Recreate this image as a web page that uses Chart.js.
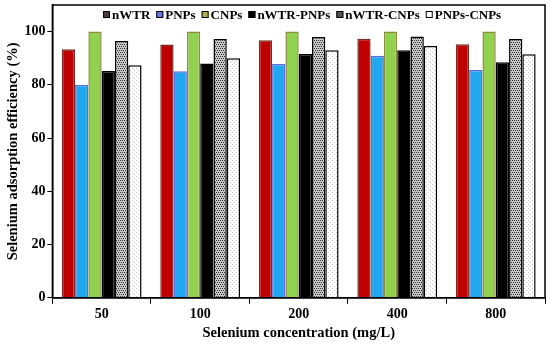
<!DOCTYPE html>
<html>
<head>
<meta charset="utf-8">
<script src="https://cdn.jsdelivr.net/npm/chart.js@4.4.1/dist/chart.umd.min.js"></script>
<style>
  html, body { margin: 0; padding: 0; background: #fff; }
  #wrap { width: 550px; height: 345px; }
</style>
</head>
<body>
<div id="wrap"><canvas id="chart" width="550" height="345"></canvas></div>
<script>
const concentrations = ['50', '100', '200', '400', '800'];
const seriesNames = ['nWTR', 'PNPs', 'CNPs', 'nWTR-PNPs', 'nWTR-CNPs', 'PNPs-CNPs'];
const nWTR = [93.4, 95.2, 96.8, 97.3, 95.3];
const PNPs = [80.0, 85.1, 87.8, 90.9, 85.6];
const CNPs = [100, 100, 100, 100, 100];
const nWTR_PNPs = [85.2, 88.0, 91.6, 93.0, 88.5];
const nWTR_CNPs = [96.5, 97.2, 98.0, 98.2, 97.2];
const PNPs_CNPs = [87.4, 90.0, 93.0, 94.6, 91.5];
const yTicks = [0, 20, 40, 60, 80, 100];

const FONT = '"Liberation Serif", "Times New Roman", serif';

function makePattern(bg, dot, step) {
  const c = document.createElement('canvas');
  c.width = step; c.height = step;
  const g = c.getContext('2d');
  g.fillStyle = bg;
  g.fillRect(0, 0, step, step);
  g.fillStyle = dot;
  for (let y = 0; y < step; y += 2) {
    for (let x = (y / 2) % 2; x < step; x += 2) {
      g.fillRect(x, y, 1, 1);
    }
  }
  return g.createPattern(c, 'repeat');
}

function sparsePattern() {
  const c = document.createElement('canvas');
  c.width = 4; c.height = 4;
  const g = c.getContext('2d');
  g.fillStyle = '#ffffff';
  g.fillRect(0, 0, 4, 4);
  g.fillStyle = '#c8c8c8';
  g.fillRect(0, 0, 1, 1);
  g.fillRect(2, 2, 1, 1);
  return g.createPattern(c, 'repeat');
}

const checkFill = makePattern('#c8c8c8', '#303030', 4);
const dotFill = sparsePattern();

const fills = ['#c00000', '#1fa8f0', '#92d050', '#000000', checkFill, dotFill];
const borders = ['#7a2a22', '#5a6ad8', '#8c8c3c', '#000000', '#000000', '#000000'];
const legendFills = ['#4a3a3a', '#6a7ae0', '#b0b050', '#000000', '#555555', '#ffffff'];
const values = [nWTR, PNPs, CNPs, nWTR_PNPs, nWTR_CNPs, PNPs_CNPs];

const datasets = seriesNames.map((name, i) => ({
  label: name,
  data: values[i],
  backgroundColor: fills[i],
  borderColor: borders[i],
  borderWidth: 1.5,
  borderSkipped: 'bottom',
  categoryPercentage: 0.81,
  barPercentage: 1.0
}));

// legend drawn inside the plot box, like the original figure
const insideLegend = {
  id: 'insideLegend',
  afterDraw(chart) {
    const ctx = chart.ctx;
    ctx.save();
    ctx.font = 'bold 13px ' + FONT;
    ctx.textBaseline = 'middle';
    ctx.textAlign = 'left';
    let x = 103;
    const y = 15;
    seriesNames.forEach((name, i) => {
      ctx.fillStyle = legendFills[i];
      ctx.fillRect(x, y - 4, 7, 7);
      ctx.strokeStyle = '#000';
      ctx.lineWidth = 1;
      ctx.strokeRect(x + 0.5, y - 3.5, 6, 6);
      ctx.fillStyle = '#000';
      ctx.fillText(name, x + 9, y + 1);
      x += 9 + ctx.measureText(name).width + 6;
    });
    ctx.restore();
  }
};

// full frame round the plot area
const frame = {
  id: 'frame',
  afterDraw(chart) {
    const a = chart.chartArea;
    const ctx = chart.ctx;
    ctx.save();
    ctx.strokeStyle = '#000';
    ctx.lineWidth = 1.5;
    ctx.strokeRect(a.left, a.top, a.right - a.left, a.bottom - a.top);
    ctx.restore();
  }
};

new Chart(document.getElementById('chart'), {
  type: 'bar',
  data: { labels: concentrations, datasets },
  plugins: [insideLegend, frame],
  options: {
    responsive: false,
    animation: false,
    layout: { padding: { top: 5, right: 5, left: 5, bottom: 3 } },
    plugins: { legend: { display: false }, tooltip: { enabled: false } },
    scales: {
      x: {
        grid: { display: true, drawOnChartArea: false, drawTicks: true, tickLength: 6, color: '#000', offset: true },
        border: { color: '#000', width: 1.5 },
        ticks: { color: '#000', font: { family: FONT, size: 14, weight: 'bold' }, padding: 2 },
        title: { display: true, text: 'Selenium concentration (mg/L)', color: '#000', font: { family: FONT, size: 14.5, weight: 'bold' }, padding: { top: 0, bottom: 0 } }
      },
      y: {
        min: 0,
        max: 110,
        afterBuildTicks(scale) { scale.ticks = yTicks.map(v => ({ value: v })); },
        afterFit(scale) { scale.paddingTop = 0; },
        grid: { display: true, drawOnChartArea: false, drawTicks: true, tickLength: 5, color: '#000' },
        border: { color: '#000', width: 1.5 },
        ticks: { color: '#000', font: { family: FONT, size: 14, weight: 'bold' }, padding: 2 },
        title: { display: true, text: 'Selenium adsorption efficiency (%)', color: '#000', font: { family: FONT, size: 14.5, weight: 'bold' }, padding: { top: 0, bottom: 0 } }
      }
    }
  }
});
</script>
</body>
</html>
